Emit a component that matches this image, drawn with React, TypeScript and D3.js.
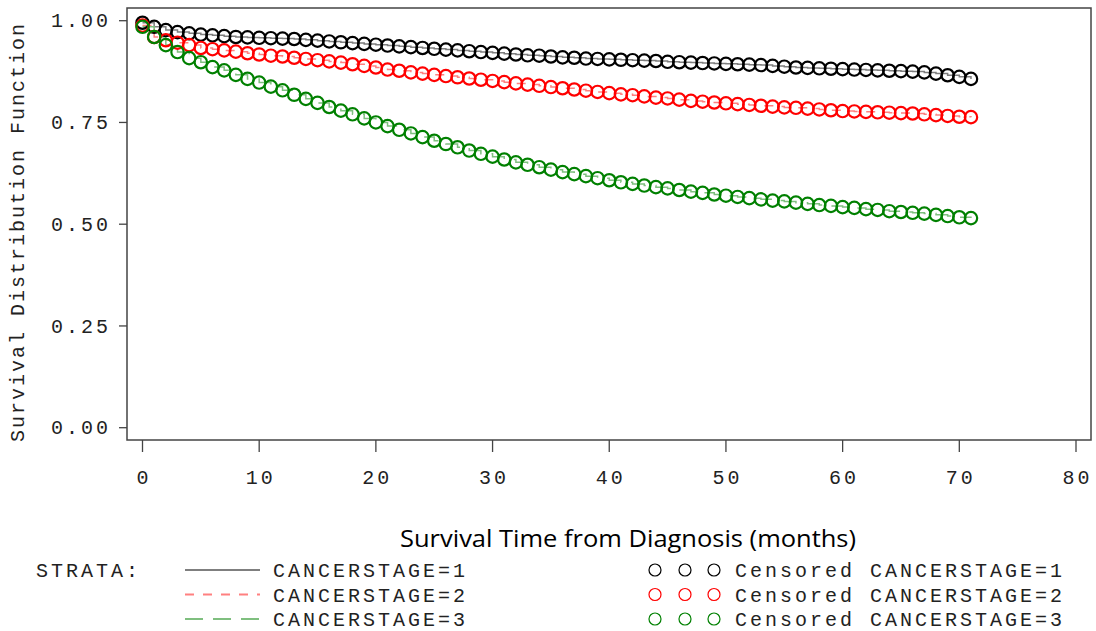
import React from "react";
import * as d3 from "d3";

const months: number[] = Array.from({ length: 72 }, (_, i) => i);

const stage1: number[] = [
  0.995, 0.985, 0.977, 0.972, 0.969, 0.966, 0.964, 0.962, 0.960, 0.959,
  0.958, 0.957, 0.956, 0.955, 0.953, 0.951, 0.949, 0.947, 0.945, 0.943,
  0.941, 0.939, 0.937, 0.935, 0.933, 0.931, 0.929, 0.927, 0.925, 0.923,
  0.921, 0.919, 0.917, 0.915, 0.914, 0.912, 0.910, 0.909, 0.907, 0.906,
  0.905, 0.904, 0.903, 0.902, 0.901, 0.899, 0.898, 0.897, 0.896, 0.895,
  0.894, 0.893, 0.892, 0.891, 0.889, 0.887, 0.885, 0.884, 0.883, 0.882,
  0.881, 0.880, 0.879, 0.878, 0.877, 0.876, 0.875, 0.873, 0.870, 0.866,
  0.862, 0.857,
];

const stage2: number[] = [
  0.988, 0.960, 0.952, 0.946, 0.940, 0.933, 0.930, 0.927, 0.924, 0.920,
  0.917, 0.914, 0.912, 0.909, 0.906, 0.903, 0.900, 0.897, 0.893, 0.889,
  0.885, 0.880, 0.877, 0.873, 0.870, 0.867, 0.864, 0.861, 0.858, 0.855,
  0.852, 0.849, 0.846, 0.843, 0.840, 0.837, 0.834, 0.831, 0.828, 0.825,
  0.822, 0.819, 0.817, 0.814, 0.811, 0.809, 0.806, 0.803, 0.801, 0.799,
  0.797, 0.795, 0.793, 0.791, 0.789, 0.787, 0.786, 0.784, 0.782, 0.780,
  0.778, 0.777, 0.776, 0.775, 0.774, 0.773, 0.772, 0.770, 0.768, 0.766,
  0.764, 0.763,
];

const stage3: number[] = [
  0.985, 0.960, 0.940, 0.923, 0.908, 0.898, 0.886, 0.878, 0.867, 0.857,
  0.848, 0.838, 0.829, 0.818, 0.808, 0.798, 0.788, 0.779, 0.770, 0.760,
  0.750, 0.741, 0.732, 0.723, 0.714, 0.705, 0.697, 0.689, 0.681, 0.673,
  0.666, 0.659, 0.652, 0.646, 0.640, 0.634, 0.628, 0.623, 0.618, 0.613,
  0.608, 0.603, 0.599, 0.595, 0.591, 0.588, 0.584, 0.580, 0.577, 0.573,
  0.570, 0.567, 0.564, 0.561, 0.558, 0.556, 0.553, 0.550, 0.547, 0.545,
  0.542, 0.540, 0.537, 0.535, 0.532, 0.530, 0.528, 0.526, 0.523, 0.520,
  0.517, 0.515,
];

const xTicks: number[] = [0, 10, 20, 30, 40, 50, 60, 70, 80];
const yTicks: number[] = [0, 0.25, 0.5, 0.75, 1.0];
const strataLabels: string[] = ["CANCERSTAGE=1", "CANCERSTAGE=2", "CANCERSTAGE=3"];
const markerColors: string[] = ["#000000", "#ff0000", "#008000"];
const lineColors: string[] = ["#7f7f7f", "#ff8080", "#7fbf7f"];
const lineDashes: string[] = ["none", "9 9", "18 10"];

const MONO = "'Liberation Mono', 'Courier New', monospace";

export default function App() {
  const W = 1096;
  const H = 631;
  const frame = { left: 127, right: 1091, top: 8, bottom: 440 };
  const x = d3.scaleLinear().domain([0, 80]).range([142.5, 1076]);
  const y = d3.scaleLinear().domain([0, 1]).range([427.7, 20.7]);
  const series = [stage1, stage2, stage3];

  const line = d3
    .line<number>()
    .x((_, i) => x(months[i]))
    .y((d) => y(d))
    .curve(d3.curveStepAfter);

  const ls = 3;

  return (
    <svg
      width={W}
      height={H}
      style={{ position: "absolute", left: 0, top: 0, background: "#fff" }}
    >
      <rect
        x={frame.left}
        y={frame.top}
        width={frame.right - frame.left}
        height={frame.bottom - frame.top}
        fill="none"
        stroke="#444"
        strokeWidth={1.5}
      />
      {yTicks.map((t) => (
        <g key={"y" + t}>
          <line x1={119} x2={frame.left} y1={y(t)} y2={y(t)} stroke="#444" strokeWidth={1.3} />
          <text
            x={108 + ls}
            y={y(t)}
            dy="0.33em"
            textAnchor="end"
            fontFamily={MONO}
            fontSize={20}
            letterSpacing={ls}
            fill="#222"
          >
            {t.toFixed(2)}
          </text>
        </g>
      ))}
      {xTicks.map((t) => (
        <g key={"x" + t}>
          <line x1={x(t)} x2={x(t)} y1={frame.bottom} y2={452} stroke="#444" strokeWidth={1.3} />
          <text
            x={x(t) + ls / 2}
            y={484}
            textAnchor="middle"
            fontFamily={MONO}
            fontSize={20}
            letterSpacing={ls}
            fill="#222"
          >
            {String(t)}
          </text>
        </g>
      ))}
      <text
        transform={`translate(24, 232) rotate(-90)`}
        textAnchor="middle"
        fontFamily={MONO}
        fontSize={20}
        letterSpacing={2}
        fill="#222"
      >
        Survival Distribution Function
      </text>
      <text
        x={628}
        y={547}
        textAnchor="middle"
        fontFamily="'Open Sans', 'Noto Sans', sans-serif"
        fontSize={24}
        textLength={456}
        lengthAdjust="spacingAndGlyphs"
        fill="#000"
      >
        Survival Time from Diagnosis (months)
      </text>

      {series.map((s, k) => (
        <path
          key={"l" + k}
          d={line(s) || ""}
          fill="none"
          stroke={lineColors[k]}
          strokeWidth={1.5}
          strokeDasharray={lineDashes[k]}
        />
      ))}
      {series.map((s, k) => (
        <g key={"m" + k}>
          {s.map((v, i) => (
            <circle
              key={i}
              cx={x(months[i])}
              cy={y(v)}
              r={6.2}
              fill="none"
              stroke={markerColors[k]}
              strokeWidth={2.2}
            />
          ))}
        </g>
      ))}

      <text x={36} y={577} fontFamily={MONO} fontSize={20} letterSpacing={ls} fill="#222">
        STRATA:
      </text>
      {strataLabels.map((lab, k) => {
        const ly = 570 + k * 24.5;
        return (
          <g key={"lg" + k}>
            <line
              x1={185}
              x2={260}
              y1={ly}
              y2={ly}
              stroke={lineColors[k]}
              strokeWidth={2}
              strokeDasharray={lineDashes[k]}
            />
            <text x={273} y={ly + 7} fontFamily={MONO} fontSize={20} letterSpacing={ls} fill="#222">
              {lab}
            </text>
            {[655, 685, 714].map((cx) => (
              <circle key={cx} cx={cx} cy={ly} r={6} fill="none" stroke={markerColors[k]} strokeWidth={1.2} />
            ))}
            <text x={735} y={ly + 7} fontFamily={MONO} fontSize={20} letterSpacing={ls} fill="#222">
              {"Censored " + lab}
            </text>
          </g>
        );
      })}
    </svg>
  );
}
